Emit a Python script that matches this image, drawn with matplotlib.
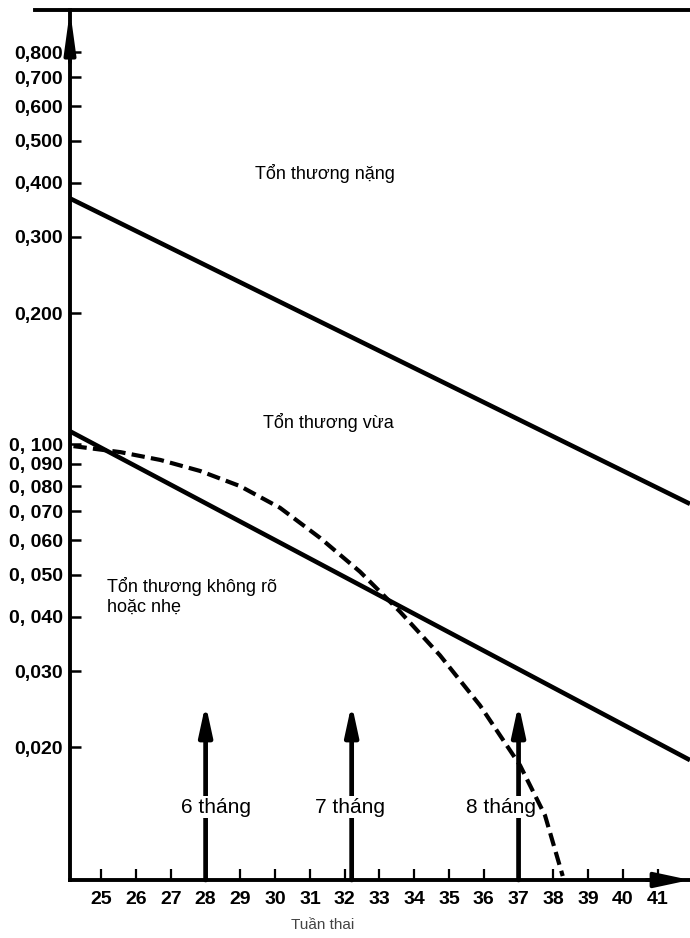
import matplotlib
matplotlib.use('Agg')
import matplotlib.pyplot as plt
from matplotlib.ticker import FixedLocator, FixedFormatter, NullLocator
from matplotlib.lines import Line2D

plt.rcParams['font.family'] = ['Liberation Sans', 'DejaVu Sans']

# ---- data ----
weeks = list(range(25, 42))
week_labels = [str(w) for w in weeks]
yticks = [0.02, 0.03, 0.04, 0.05, 0.06, 0.07, 0.08, 0.09, 0.1,
          0.2, 0.3, 0.4, 0.5, 0.6, 0.7, 0.8]
ytick_labels = ["0,020", "0,030", "0, 040", "0, 050", "0, 060", "0, 070",
                "0, 080", "0, 090", "0, 100", "0,200", "0,300", "0,400",
                "0,500", "0,600", "0,700", "0,800"]

severe_x = [24.1, 41.93]
severe_y = [0.368, 0.0728]
mild_x = [24.1, 41.93]
mild_y = [0.107, 0.0187]

curve_x = [24.2, 25.55, 26.7, 27.84, 28.99, 30.14, 31.29, 32.44, 33.59,
           34.74, 35.89, 37.04, 37.76, 38.27]
curve_y = [0.0989, 0.0958, 0.0919, 0.0867, 0.0800, 0.0713, 0.0608, 0.0508,
           0.0411, 0.0326, 0.0250, 0.0182, 0.01395, 0.01011]

month_x = [28, 32.2, 37]
month_labels = ["6 tháng", "7 tháng", "8 tháng"]
month_label_x = [28.3, 32.15, 36.5]
arrow_top = 0.0252

region_labels = ["Tổn thương nặng", "Tổn thương vừa",
                 "Tổn thương không rõ\nhoặc nhẹ"]
x_title = "Tuần thai"

# ---- figure ----
W, H = 690, 938
fig = plt.figure(figsize=(W / 100, H / 100), dpi=100)
ax = fig.add_axes([70 / W, 1 - 880 / H, 620 / W, 870 / H])
ax.set_yscale('log')
ax.set_xlim(24.1, 41.93)
ax.set_ylim(0.0099, 1.0)

ax.plot(severe_x, severe_y, color='black', lw=3.3, solid_capstyle='butt')
ax.plot(mild_x, mild_y, color='black', lw=3.3, solid_capstyle='butt')
ax.plot(curve_x, curve_y, color='black', lw=3.0,
        linestyle=(0, (3.2, 1.5)), dash_capstyle='butt',
        dash_joinstyle='round', zorder=6)

for mx, lx, lab in zip(month_x, month_label_x, month_labels):
    ax.annotate('', xy=(mx, arrow_top), xytext=(mx, 0.0099),
                arrowprops=dict(arrowstyle='-|>,head_length=1.2,head_width=0.26',
                                lw=3.4, color='black', mutation_scale=15,
                                shrinkA=0, shrinkB=0))
    ax.text(lx, 0.01456, lab, ha='center', va='center', fontsize=15,
            zorder=5,
            bbox=dict(facecolor='white', edgecolor='none', pad=1.0))

ax.text(29.42, 0.42, region_labels[0], ha='left', va='center', fontsize=13)
ax.text(29.65, 0.112, region_labels[1], ha='left', va='center', fontsize=13)
ax.text(25.17, 0.0494, region_labels[2], ha='left', va='top', fontsize=13,
        linespacing=1.2)

# axes styling
for s in ['left', 'bottom', 'top']:
    ax.spines[s].set_linewidth(2.8)
ax.spines['right'].set_visible(False)

ax.xaxis.set_major_locator(FixedLocator(weeks))
ax.xaxis.set_major_formatter(FixedFormatter(week_labels))
ax.xaxis.set_minor_locator(NullLocator())
ax.yaxis.set_major_locator(FixedLocator(yticks))
ax.yaxis.set_major_formatter(FixedFormatter(ytick_labels))
ax.yaxis.set_minor_locator(NullLocator())
ax.tick_params(axis='x', direction='in', length=8, width=1.6, pad=8)
ax.tick_params(axis='y', direction='in', length=8, width=1.8, pad=5)
for t in ax.get_xticklabels():
    t.set_fontweight('bold')
    t.set_fontsize(14)
for t in ax.get_yticklabels():
    t.set_fontweight('bold')
    t.set_fontsize(14)

fig.text(323 / W, 1 - 925 / H, x_title, ha='center', va='center',
         fontsize=11, color='#444444')

# axis arrows
ax.annotate('', xy=(1.0, 0), xytext=(0.93, 0), xycoords='axes fraction',
            arrowprops=dict(arrowstyle='-|>,head_length=1.4,head_width=0.3',
                            lw=2.8, color='black', mutation_scale=15,
                            shrinkA=0, shrinkB=0), annotation_clip=False)
ax.annotate('', xy=(0, 1.0), xytext=(0, 0.94), xycoords='axes fraction',
            arrowprops=dict(arrowstyle='-|>,head_length=1.6,head_width=0.22',
                            lw=2.8, color='black', mutation_scale=15,
                            shrinkA=0, shrinkB=0), annotation_clip=False)

# top border extension to the left
fig.add_artist(Line2D([35 / W, 70 / W], [1 - 10 / H, 1 - 10 / H],
                      transform=fig.transFigure, lw=2.8, color='black'))

fig.savefig('out.png', dpi=100)
